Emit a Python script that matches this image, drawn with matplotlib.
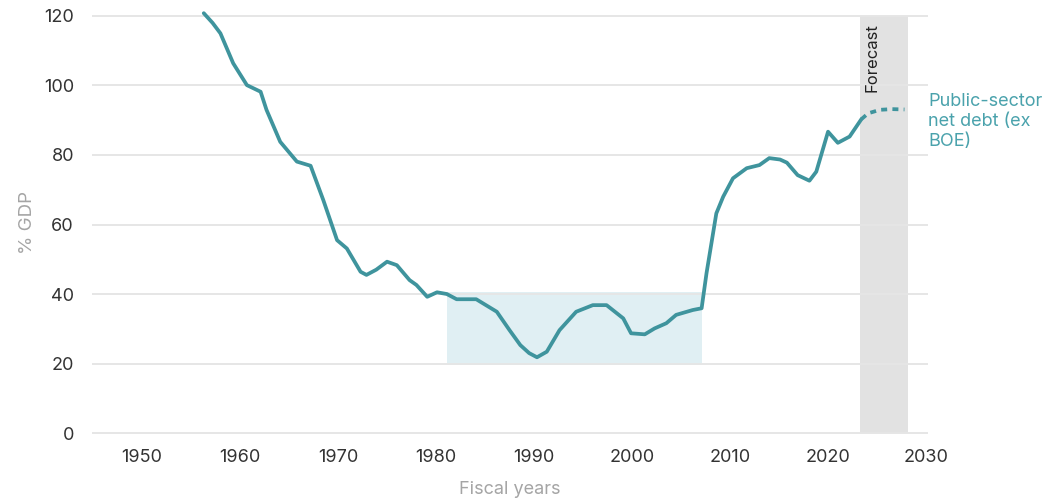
import matplotlib
matplotlib.use("Agg")
import matplotlib.pyplot as plt

# Public-sector net debt (ex BOE), % of GDP, by fiscal year
years = [1956.3, 1957.2, 1958.0, 1959.3, 1960.7, 1962.1, 1962.7, 1964.1, 1965.8,
         1967.2, 1968.5, 1969.9, 1970.9, 1972.3, 1972.9, 1973.9, 1975.0, 1976.0,
         1977.3, 1978.0, 1979.1, 1980.1, 1981.1, 1982.1, 1984.1, 1986.2, 1987.5,
         1988.6, 1989.5, 1990.3, 1991.3, 1992.6, 1994.3, 1996.0, 1997.4, 1999.1,
         1999.9, 2001.3, 2002.3, 2003.5, 2004.5, 2006.2, 2007.1, 2007.6, 2008.1,
         2008.6, 2009.3, 2010.3, 2011.7, 2013.0, 2014.0, 2015.1, 2015.8, 2016.9,
         2018.1, 2018.8, 2020.0, 2021.0, 2022.2, 2023.4]
debt = [120.8, 118.0, 115.0, 106.4, 100.1, 98.2, 93.0, 83.8, 78.1,
        76.9, 67.0, 55.5, 53.1, 46.4, 45.5, 47.0, 49.3, 48.3,
        44.0, 42.6, 39.2, 40.5, 40.0, 38.5, 38.5, 34.9, 29.6,
        25.3, 23.0, 21.8, 23.4, 29.6, 34.9, 36.8, 36.8, 33.0,
        28.7, 28.4, 30.1, 31.6, 34.0, 35.4, 35.9, 46.0, 54.6,
        63.2, 68.0, 73.3, 76.2, 77.1, 79.1, 78.7, 77.8, 74.2,
        72.6, 75.2, 86.7, 83.5, 85.3, 90.3]

# Forecast path
fc_years = [2023.4, 2024.1, 2025.3, 2026.5, 2027.8]
fc_debt = [90.3, 92.0, 93.0, 93.2, 93.1]

# Shaded periods
forecast_span = [2023.3, 2028.2]
low_debt_span = [1981.1, 2007.1]
low_debt_range = [19.6, 40.6]

y_ticks = [0, 20, 40, 60, 80, 100, 120]
x_ticks = [1950, 1960, 1970, 1980, 1990, 2000, 2010, 2020, 2030]

teal = "#3f949d"
plt.rcParams["font.family"] = ["Inter", "DejaVu Sans"]

fig = plt.figure(figsize=(10.46, 5.04), dpi=100)
ax = fig.add_axes([0.088, 0.1339, 0.7992, 0.8482])

ax.set_xlim(1944.9, 2030.2)
ax.set_ylim(-1, 122)

# background shading
ax.fill_between(forecast_span, 0, 120, color="#e2e2e2", lw=0, zorder=0.2)
ax.fill_between(low_debt_span, low_debt_range[0], low_debt_range[1],
                color="#e0eff3", lw=0, zorder=0.2)

# gridlines
for t in y_ticks:
    ax.axhline(t, color="#e6e6e6", lw=1.4, zorder=0.5)

ax.plot(years, debt, color=teal, lw=2.7, solid_joinstyle="round",
        solid_capstyle="round", zorder=3)
ax.plot(fc_years, fc_debt, color=teal, lw=2.7, dashes=(1.6, 1.4), zorder=3)

ax.set_yticks(y_ticks)
ax.set_xticks(x_ticks)
ax.tick_params(axis="both", length=0, labelsize=13, labelcolor="#333333")
ax.tick_params(axis="y", pad=13)
ax.tick_params(axis="x", pad=9)
for s in ax.spines.values():
    s.set_visible(False)

ax.set_ylabel("% GDP", color="#a5a5a5", fontsize=13.5, labelpad=6)
ax.set_xlabel("Fiscal years", color="#a5a5a5", fontsize=13, labelpad=11)

ax.text(2024.45, 117.8, "Forecast", rotation=90, ha="center", va="top",
        fontsize=12, color="#222222", zorder=4)
ax.text(1.0, 97.8 / 123 + 1 / 123, "Public-sector\nnet debt (ex\nBOE)",
        transform=ax.transAxes, ha="left", va="top", fontsize=13,
        color="#4aa2ac", linespacing=1.22)

fig.savefig("out.png", dpi=100, facecolor="white")
